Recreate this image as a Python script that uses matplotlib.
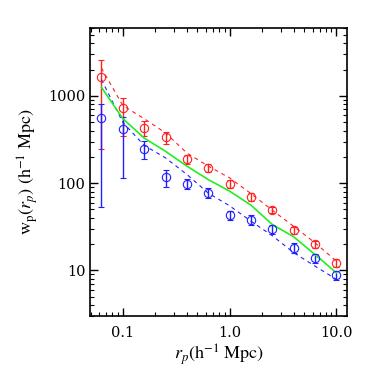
import numpy as np
import matplotlib
matplotlib.use("Agg")
import matplotlib.pyplot as plt
from matplotlib.ticker import FixedLocator, FixedFormatter, LogLocator, NullFormatter

plt.rcParams['font.family'] = 'STIXGeneral'
plt.rcParams['mathtext.fontset'] = 'stix'

rp = [0.063, 0.1, 0.158, 0.251, 0.398, 0.631, 1.0, 1.585, 2.512, 3.98, 6.31, 10.0]

# red sample
red_w = [1636, 729, 430, 336, 187, 150, 98, 70, 49, 28.7, 20, 12.2]
red_lo = [247, 345, 345, 282, 165, 135, 88, 63, 45, 26, 18, 10.8]
red_hi = [2600, 950, 513, 384, 212, 167, 109, 77, 53, 31.5, 22, 13.6]
red_model = [2090, 775, 550, 377, 222, 157, 115, 76, 49, 32, 20.7, 12.8]

# blue sample
blue_w = [555, 423, 249, 119, 99, 77, 43, 38, 29.5, 18, 13.8, 8.8]
blue_lo = [53.6, 115, 190, 91, 85, 67, 38, 33, 26, 16, 12.2, 7.8]
blue_hi = [809, 575, 302, 141, 113, 87, 48, 43, 33, 20.5, 15.5, 9.9]
blue_model = [1540, 499, 272, 195, 126, 77, 55, 36.7, 25, 16, 11.2, 7.9]

# green full sample model
green_model = [1257, 550, 330, 232, 157, 110, 81, 56, 33.6, 24.3, 15.2, 9.4]

fig = plt.figure(figsize=(3.74, 3.74), dpi=100)
ax = fig.add_axes([0.241, 0.155, 0.687, 0.77])

for w, lo, hi, model, c in [(red_w, red_lo, red_hi, red_model, '#ff2020'),
                            (blue_w, blue_lo, blue_hi, blue_model, '#2020ff')]:
    w = np.array(w)
    yerr = [w - np.array(lo), np.array(hi) - w]
    ax.errorbar(rp, w, yerr=yerr, fmt='o', mfc='none', mec=c, ecolor=c,
                ms=6, mew=0.8, elinewidth=1.0, capsize=2, capthick=0.9)
    ax.plot(rp, model, color=c, ls=(0, (3.5, 3.5)), lw=0.8)

ax.plot(rp, green_model, color='#22ee22', lw=1.2)

ax.set_xscale('log')
ax.set_yscale('log')
ax.set_xlim(0.0494, 12.6)
ax.set_ylim(3.0, 6000)

ax.xaxis.set_major_locator(FixedLocator([0.1, 1.0, 10.0]))
ax.xaxis.set_major_formatter(FixedFormatter(['0.1', '1.0', '10.0']))
ax.xaxis.set_minor_locator(LogLocator(base=10, subs=np.arange(2, 10)))
ax.xaxis.set_minor_formatter(NullFormatter())
ax.yaxis.set_major_locator(FixedLocator([10, 100, 1000]))
ax.yaxis.set_major_formatter(FixedFormatter(['10', '100', '1000']))
ax.yaxis.set_minor_locator(LogLocator(base=10, subs=np.arange(2, 10)))
ax.yaxis.set_minor_formatter(NullFormatter())

ax.tick_params(which='both', direction='in', top=True, right=True)
ax.tick_params(which='major', length=6, width=1)
ax.tick_params(which='minor', length=3, width=0.8)
ax.tick_params(axis='x', pad=7)
for lab in ax.get_xticklabels() + ax.get_yticklabels():
    lab.set_family('DejaVu Serif')
    lab.set_fontsize(10.5)
for s in ax.spines.values():
    s.set_linewidth(1.2)

ax.set_xlabel(r'$r_p$(h$^{-1}$ Mpc)', fontsize=13, labelpad=2)
ax.set_ylabel(r'w$_\mathrm{p}$($r_p$) (h$^{-1}$ Mpc)', fontsize=13, labelpad=6)

fig.savefig('out.png', dpi=100)
